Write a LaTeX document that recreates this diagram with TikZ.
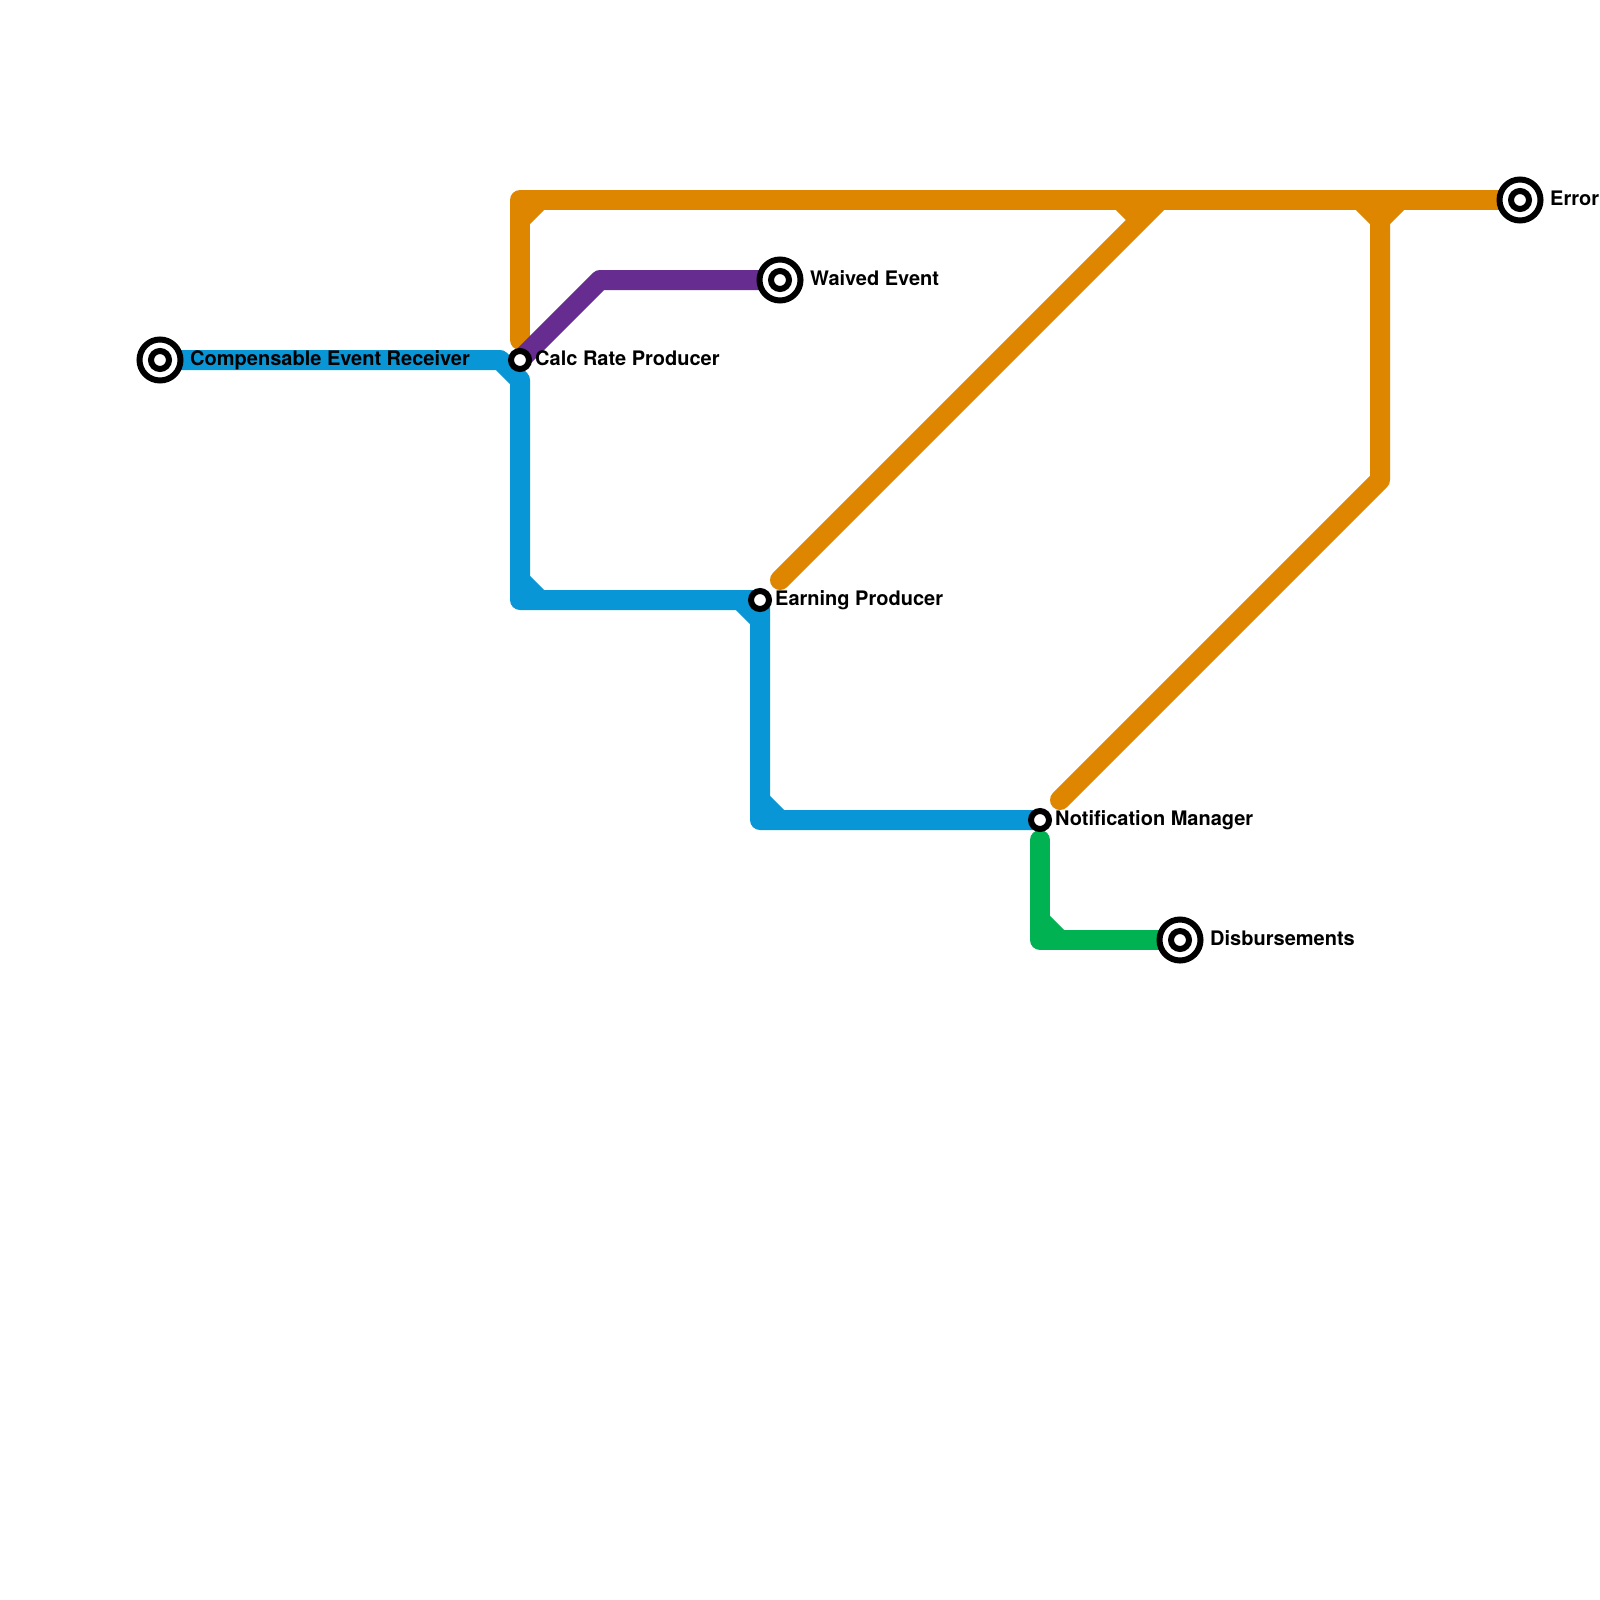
\documentclass[tikz,border=0pt]{standalone}
\usepackage{fontspec}
\setmainfont{TeX Gyre Heros}
\definecolor{lorange}{HTML}{DF8600}
\definecolor{lblue}{HTML}{0896D7}
\definecolor{lpurple}{HTML}{662C90}
\definecolor{lgreen}{HTML}{00B251}
\tikzset{
  route/.style={line width=20pt,line join=round,line cap=round},
  chamfer/.style={line width=20pt,line cap=butt},
  ringbase/.style={circle,draw=black,fill=white,line width=6pt,inner sep=0pt,outer sep=0pt},
  smallring/.style={ringbase,minimum size=18pt},
  bigring/.style={ringbase,minimum size=41pt},
  lbl/.style={anchor=base west,inner sep=0pt,font=\fontsize{20}{22}\selectfont\bfseries,text=black}
}
\begin{document}
\begin{tikzpicture}[x=1pt,y=-1pt]
\useasboundingbox (0,0) rectangle (1600,1600);
\fill[white] (0,0) rectangle (1600,1600);
% stations (coordinates)
\coordinate (comp) at (160,360);
\coordinate (calc) at (520,360);
\coordinate (waived) at (780,280);
\coordinate (earn) at (760,600);
\coordinate (notif) at (1040,820);
\coordinate (disb) at (1180,940);
\coordinate (err) at (1520,200);
% orange
\coordinate (oa) at (520,340);
\coordinate (ob) at (520,200);
\coordinate (oc) at (780,580);
\coordinate (od) at (1160,200);
\coordinate (oe) at (1380,200);
\coordinate (of) at (1380,480);
\coordinate (og) at (1060,800);
\draw[route,lorange] (oa) -- (ob) -- (err);
\draw[route,lorange] (oc) -- (od);
\draw[route,lorange] (oe) -- (of) -- (og);
\draw[chamfer,lorange] (520,220) -- (540,200);
\draw[chamfer,lorange] (1120,200) -- (1140,220);
\draw[chamfer,lorange] (1360,200) -- (1380,220) -- (1400,200);
% purple
\coordinate (pa) at (600,280);
\draw[route,lpurple] (calc) -- (pa) -- (waived);
% blue
\coordinate (ba) at (500,360);
\coordinate (bb) at (520,380);
\coordinate (bc) at (520,600);
\coordinate (bd) at (740,600);
\coordinate (be) at (760,620);
\coordinate (bf) at (760,820);
\draw[route,lblue] (comp) -- (ba) -- (bb) -- (bc) -- (bd) -- (earn) -- (be) -- (bf) -- (notif);
\draw[route,lblue] (bd) -- (be);
\draw[chamfer,lblue] (520,580) -- (540,600);
\draw[chamfer,lblue] (760,800) -- (780,820);
% green
\coordinate (ga) at (1040,840);
\coordinate (gb) at (1040,940);
\draw[route,lgreen] (ga) -- (gb) -- (disb);
\draw[chamfer,lgreen] (1040,920) -- (1060,940);
% station markers
\node[bigring] (compO) at (comp) {};
\node[smallring] (compI) at (comp) {};
\node[bigring] (waivedO) at (waived) {};
\node[smallring] (waivedI) at (waived) {};
\node[bigring] (disbO) at (disb) {};
\node[smallring] (disbI) at (disb) {};
\node[bigring] (errO) at (err) {};
\node[smallring] (errI) at (err) {};
\node[smallring] (calcS) at (calc) {};
\node[smallring] (earnS) at (earn) {};
\node[smallring] (notifS) at (notif) {};
% labels
\node[lbl] (compL) at (190,365) {Compensable Event Receiver};
\node[lbl] (calcL) at (535,365) {Calc Rate Producer};
\node[lbl] (waivedL) at (810,285) {Waived Event};
\node[lbl] (earnL) at (775,605) {Earning Producer};
\node[lbl] (notifL) at (1055,825) {Notification Manager};
\node[lbl] (disbL) at (1210,945) {Disbursements};
\node[lbl] (errL) at (1550,205) {Error};
\end{tikzpicture}
\end{document}
